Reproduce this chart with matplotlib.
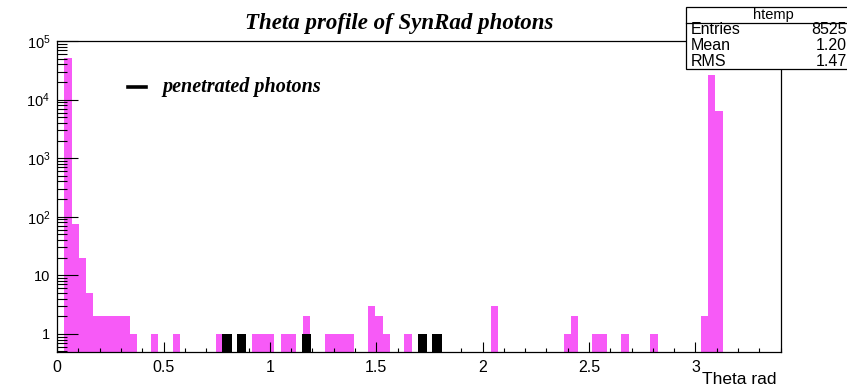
import numpy as np
import matplotlib
matplotlib.use("Agg")
import matplotlib.pyplot as plt
from matplotlib.patches import Rectangle
from matplotlib.lines import Line2D
from matplotlib.ticker import LogLocator, NullFormatter, MultipleLocator

plt.rcParams['mathtext.fontset'] = 'custom'
plt.rcParams['mathtext.rm'] = 'Liberation Sans'
plt.rcParams['mathtext.it'] = 'Liberation Sans:italic'

# Histogram of photon polar angle: 100 bins over 0 .. 3.4 rad
theta_min = 0.0
theta_max = 3.4
n_bins = 100

all_photons = [
    0, 52000, 75, 20, 5, 2, 2, 2, 2, 2,
    1, 0, 0, 1, 0, 0, 1, 0, 0, 0,
    0, 0, 1, 1, 0, 1, 0, 1, 1, 1,
    0, 1, 1, 0, 2, 0, 0, 1, 1, 1,
    1, 0, 0, 3, 2, 1, 0, 0, 1, 0,
    1, 0, 1, 0, 0, 0, 0, 0, 0, 0,
    3, 0, 0, 0, 0, 0, 0, 0, 0, 0,
    1, 2, 0, 0, 1, 1, 0, 0, 1, 0,
    0, 0, 1, 0, 0, 0, 0, 0, 0, 2,
    26000, 6500, 0, 0, 0, 0, 0, 0, 0, 0,
]

# Photons that penetrated (subset, same binning)
penetrated_bins = [23, 25, 34, 50, 52]
penetrated_counts = [1, 1, 1, 1, 1]

x_ticks = [0, 0.5, 1, 1.5, 2, 2.5, 3]
x_tick_labels = ["0", "0.5", "1", "1.5", "2", "2.5", "3"]
y_ticks = [1, 10, 1e2, 1e3, 1e4, 1e5]
y_tick_labels = ["1", "10", r"$10^{2}$", r"$10^{3}$", r"$10^{4}$", r"$10^{5}$"]

stats_name = "htemp"
stats_rows = [("Entries", "8525"), ("Mean", "1.20"), ("RMS", "1.47")]

title = "Theta profile of SynRad photons"
legend_label = "penetrated photons"
x_label = "Theta rad"

W, H = 847, 388
fig = plt.figure(figsize=(W / 100, H / 100), dpi=100)
fig.patch.set_facecolor("white")

def fx(px):
    return px / W

def fy(py):
    return 1 - py / H

left, right, top, bottom = 57.2, 780.5, 41, 352
ax = fig.add_axes([fx(left), fy(bottom), fx(right) - fx(left), fy(top) - fy(bottom)])

edges = np.linspace(theta_min, theta_max, n_bins + 1)
width = edges[1] - edges[0]
centers = 0.5 * (edges[:-1] + edges[1:])
counts = np.array(all_photons, dtype=float)
nz = counts > 0

ax.set_yscale("log")
ax.bar(centers[nz], counts[nz], width=width, bottom=0.01, color="#f75af7",
       edgecolor="none", linewidth=0, zorder=1)
pen_x = centers[np.array(penetrated_bins)]
ax.bar(pen_x, penetrated_counts, width=width * 1.3, bottom=0.01, color="black",
       edgecolor="none", linewidth=0, zorder=1.5)

ax.set_xlim(theta_min, theta_max)
ax.set_ylim(0.49, 1e5)

ax.set_xticks(x_ticks, labels=x_tick_labels)
ax.xaxis.set_minor_locator(MultipleLocator(0.1))
ax.set_yticks(y_ticks, labels=y_tick_labels)
ax.yaxis.set_minor_locator(LogLocator(base=10, subs=np.arange(2, 10)))
ax.yaxis.set_minor_formatter(NullFormatter())

ax.tick_params(axis="x", which="major", direction="in", length=7, width=0.8,
               pad=6, labelsize=11.5, colors="black")
ax.tick_params(axis="x", which="minor", direction="in", length=3, width=0.8)
ax.tick_params(axis="y", which="major", direction="in", length=15, width=0.8,
               pad=5, labelsize=10.5)
ax.tick_params(axis="y", which="minor", direction="in", length=7.5, width=0.8)
for lab in ax.get_xticklabels() + ax.get_yticklabels():
    lab.set_fontfamily("Liberation Sans")

for s in ax.spines.values():
    s.set_linewidth(0.9)
    s.set_color("black")

# Title and axis label
fig.text(fx(399), fy(23), title, ha="center", va="center", fontsize=16.5,
         family="Liberation Serif", weight="bold", style="italic")
fig.text(fx(776), fy(380), x_label, ha="right", va="center", fontsize=12.5,
         family="Liberation Sans")

# Legend entry
fig.add_artist(Line2D([fx(128), fx(146)], [fy(87), fy(87)], color="black",
                      linewidth=2.6, transform=fig.transFigure))
fig.text(fx(162), fy(87), legend_label, ha="left", va="center", fontsize=14.5,
         family="Liberation Serif", weight="bold", style="italic")

# Statistics box
box_l, box_t, box_b, box_sep = 686, 7, 69, 23
fig.add_artist(Rectangle((fx(box_l), fy(box_b)), fx(880) - fx(box_l),
                         fy(box_t) - fy(box_b), transform=fig.transFigure,
                         facecolor="white", edgecolor="black", linewidth=0.9,
                         zorder=5))
fig.add_artist(Line2D([fx(box_l), fx(880)], [fy(box_sep), fy(box_sep)],
                      color="black", linewidth=0.9, transform=fig.transFigure,
                      zorder=6))
fig.text(fx(773), fy(15), stats_name, ha="center", va="center", fontsize=10.5,
         family="Liberation Sans", zorder=7)
row_y = [30, 46, 62]
for (name, val), yy in zip(stats_rows, row_y):
    fig.text(fx(691), fy(yy), name, ha="left", va="center", fontsize=11.5,
             family="Liberation Sans", zorder=7)
    fig.text(fx(847), fy(yy), val, ha="right", va="center", fontsize=11.5,
             family="Liberation Sans", zorder=7)

fig.savefig("out.png", dpi=100, facecolor="white")
